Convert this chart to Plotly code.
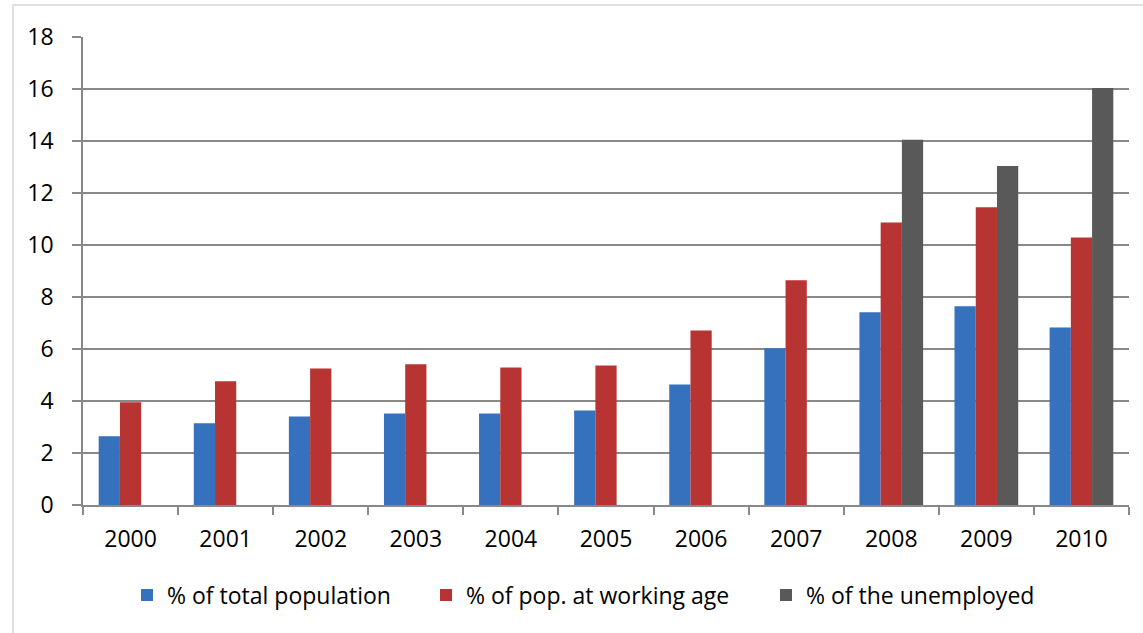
import plotly.graph_objects as go

years = ["2000", "2001", "2002", "2003", "2004", "2005", "2006", "2007", "2008", "2009", "2010"]
total_population = [2.64, 3.14, 3.40, 3.52, 3.52, 3.63, 4.63, 6.03, 7.41, 7.64, 6.83]
working_age = [3.95, 4.76, 5.25, 5.41, 5.29, 5.37, 6.71, 8.64, 10.87, 11.45, 10.29]
unemployed = [None, None, None, None, None, None, None, None, 14.05, 13.04, 16.04]

names = ["% of total population", "% of pop. at working age", "% of the unemployed"]
colors = ["#3571BC", "#B83433", "#595959"]

FONT = "Open Sans"
FS = 23

W, H = 1143, 633
L, R, T, B = 83, 14, 37, 128
pw, ph = W - L - R, H - T - B

def px_x(x):
    return (x - L) / pw

def px_y(y):
    return (H - B - y) / ph

legend_ids = ["legend", "legend2", "legend3"]
legend_left = [127, 426, 766]

fig = go.Figure()
for name, vals, c, lg in zip(names, [total_population, working_age, unemployed], colors, legend_ids):
    fig.add_trace(go.Bar(
        x=years, y=vals, name=name, legend=lg,
        marker=dict(color=c, line=dict(width=0)),
    ))

fig.add_shape(type="rect", xref="paper", yref="paper",
              x0=px_x(13), x1=px_x(1160), y0=px_y(640), y1=px_y(5),
              line=dict(color="#D6D6D6", width=1.5), fillcolor="rgba(0,0,0,0)", layer="below")

legend_common = dict(orientation="h", yanchor="middle", y=px_y(595), xanchor="left",
                     font=dict(family=FONT, size=FS, color="#000000"),
                     itemwidth=30, bgcolor="rgba(0,0,0,0)")

fig.update_layout(
    width=W, height=H,
    margin=dict(l=L, r=R, t=T, b=B),
    paper_bgcolor="white", plot_bgcolor="white",
    barmode="group", bargap=0.33, bargroupgap=0,
    font=dict(family=FONT, size=FS, color="#000000"),
    showlegend=True,
    legend=dict(x=px_x(legend_left[0]), **legend_common),
    legend2=dict(x=px_x(legend_left[1]), **legend_common),
    legend3=dict(x=px_x(legend_left[2]), **legend_common),
    xaxis=dict(
        type="category", showgrid=False, showline=True, linecolor="#898989", linewidth=1.5,
        ticks="outside", tickson="boundaries", ticklen=8, tickcolor="#898989", tickwidth=1.5,
        ticklabelstandoff=13, tickfont=dict(family=FONT, size=FS, color="#000000"),
    ),
    yaxis=dict(
        range=[0, 18], dtick=2, showgrid=True, gridcolor="#898989", gridwidth=1.5,
        showline=True, linecolor="#898989", linewidth=1.5, zeroline=False,
        ticks="outside", ticklen=9, tickcolor="#898989", tickwidth=1.5,
        ticklabelstandoff=14, tickfont=dict(family=FONT, size=FS, color="#000000"),
    ),
)

fig.write_html("out.html", config={"displayModeBar": False},
               post_script="document.body.style.margin='0';document.body.style.overflow='hidden';")
